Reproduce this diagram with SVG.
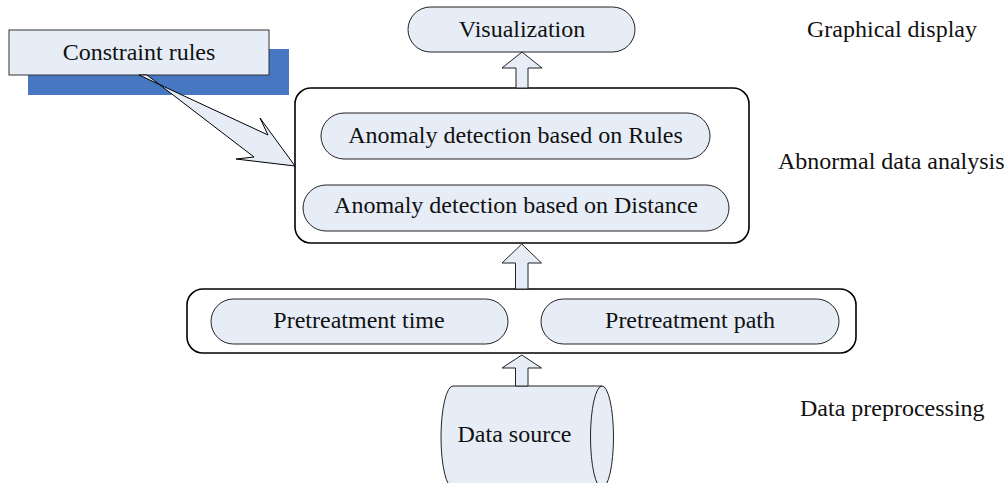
<svg xmlns="http://www.w3.org/2000/svg" width="1006" height="483" viewBox="0 0 1006 483">
<style>
text{font-family:"Liberation Serif","Times New Roman",serif;font-size:24px;fill:#111}
.c{text-anchor:middle}
.pill{fill:#E7EDF7;stroke:#222;stroke-width:1}
.frame{fill:#fff;stroke:#000;stroke-width:1.6}
.blk{fill:#E7EDF7;stroke:#222;stroke-width:1}
</style>
<rect width="1006" height="483" fill="#fff"/>
<g id="labels">
<text x="807" y="37">Graphical display</text>
<text x="778" y="169">Abnormal data analysis</text>
<text x="800" y="416">Data preprocessing</text>
</g>
<g id="constraint-rules">
<rect x="28" y="49" width="261" height="46" fill="#4677C0"/>
<rect x="9" y="30" width="260" height="45" fill="#E7EDF7" stroke="#333" stroke-width="1"/>
<text class="c" x="139" y="60">Constraint rules</text>
</g>
<g id="visualization">
<rect class="pill" x="408" y="7" width="227" height="45" rx="22.5"/>
<text class="c" x="522" y="37">Visualization</text>
</g>
<g id="analysis">
<rect class="frame" x="295" y="88" width="454" height="155" rx="16"/>
<g id="rules">
<rect class="pill" x="321" y="113" width="389" height="46" rx="23"/>
<text class="c" x="515.5" y="143">Anomaly detection based on Rules</text>
</g>
<g id="distance">
<rect class="pill" x="303" y="185" width="426" height="46" rx="23"/>
<text class="c" x="516" y="213">Anomaly detection based on Distance</text>
</g>
</g>
<g id="preprocessing">
<rect class="frame" x="187" y="289" width="669" height="64" rx="16"/>
<g id="time">
<rect class="pill" x="211" y="299" width="297" height="45" rx="22.5"/>
<text class="c" x="359" y="328">Pretreatment time</text>
</g>
<g id="path">
<rect class="pill" x="541" y="299" width="298" height="45" rx="22.5"/>
<text class="c" x="690" y="328">Pretreatment path</text>
</g>
</g>
<g id="data-source">
<path d="M453,386 L602,386 A11.5,51 0 0 1 602,488 L453,488 A12,51 0 0 1 453,386 Z" fill="#E7EDF7" stroke="#222" stroke-width="1"/>
<path d="M602,386 A11.5,51 0 0 0 602,488" fill="none" stroke="#222" stroke-width="1"/>
<text class="c" x="514.5" y="442">Data source</text>
</g>
<g id="connectors">
<polygon class="blk" points="516,88 516,68 502,68 522,52 542,68 528,68 528,88"/>
<polygon class="blk" points="515.5,289 515.5,263 502,263 521.8,244 541.5,263 528,263 528,289"/>
<polygon class="blk" points="515.5,386 515.5,368 502,368 521.8,355 541.5,368 528,368 528,386"/>
<polygon points="139,75 268,135 260,118 295,166 236,159 254,157 147,75" fill="#E7EDF7" stroke="#000" stroke-width="1"/>
</g>
</svg>
